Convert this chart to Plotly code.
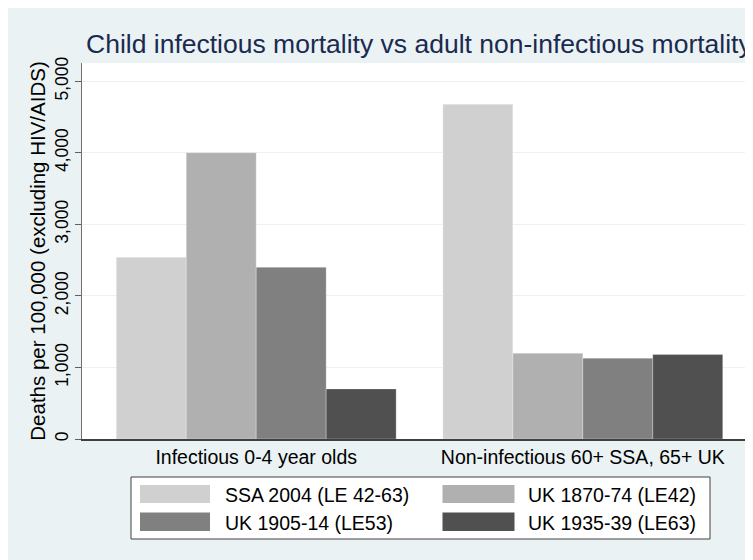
import plotly.graph_objects as go

categories = ["Infectious 0-4 year olds", "Non-infectious 60+ SSA, 65+ UK"]
series_names = ["SSA 2004 (LE 42-63)", "UK 1870-74 (LE42)", "UK 1905-14 (LE53)", "UK 1935-39 (LE63)"]
ssa_2004 = [2540, 4680]
uk_1870 = [4000, 1200]
uk_1905 = [2400, 1130]
uk_1935 = [700, 1180]
series_values = [ssa_2004, uk_1870, uk_1905, uk_1935]
colors = ["#d0d0d0", "#b0b0b0", "#808080", "#505050"]
y_ticks = [0, 1000, 2000, 3000, 4000, 5000]
y_ticktext = ["0", "1,000", "2,000", "3,000", "4,000", "5,000"]

BG = "#eaf2f3"
FONT = "Liberation Sans, Arial, sans-serif"

# figure sits at (8, 8) in the page because of the body margin
W, H = 745, 552
L, R, T, B = 74, 0, 55, 121
PW = W - L - R
PH = H - T - B


def px(x):
    return (x - L) / PW


def py(y):
    return (H - B - y) / PH


fig = go.Figure()
xpos = list(range(len(categories)))
for name, vals, col in zip(series_names, series_values, colors):
    fig.add_trace(go.Bar(
        x=xpos, y=vals, name=name,
        marker=dict(color=col, line=dict(color="rgba(255,255,255,0.35)", width=0.8)),
        showlegend=False,
    ))

shapes = []
# legend box
shapes.append(dict(type="rect", xref="paper", yref="paper", x0=px(123), x1=px(702),
                   y0=py(531), y1=py(469), fillcolor="white", line=dict(color="#404040", width=1)))

annotations = []
sw_x = [(132, 202), (434.5, 506.5)]
txt_x = [215, 518]
rows = [(477, 495), (504.5, 523)]
for i, (name, col) in enumerate(zip(series_names, colors)):
    c, r = i % 2, i // 2
    shapes.append(dict(type="rect", xref="paper", yref="paper",
                       x0=px(sw_x[c][0]), x1=px(sw_x[c][1]),
                       y0=py(rows[r][1]), y1=py(rows[r][0]),
                       fillcolor=col, line=dict(width=0)))
    annotations.append(dict(xref="paper", yref="paper", x=px(txt_x[c]),
                            y=py((rows[r][0] + rows[r][1]) / 2 + 1), text=name,
                            showarrow=False, xanchor="left", yanchor="middle",
                            font=dict(size=19.5, color="black", family=FONT)))

# title
annotations.append(dict(xref="paper", yref="paper", x=px(76), y=py(36),
                        text="Child infectious mortality vs adult non-infectious mortality",
                        showarrow=False, xanchor="left", yanchor="middle",
                        font=dict(size=26.5, color="#1a2a50", family=FONT)))

unit = 326.6
x0 = 0 - (248.2 - L) / unit
x1 = x0 + PW / unit

fig.update_layout(
    width=W, height=H,
    margin=dict(l=L, r=R, t=T, b=B, pad=0),
    paper_bgcolor=BG, plot_bgcolor="white",
    barmode="group", bargap=0.143, bargroupgap=0,
    font=dict(family=FONT, color="black"),
    shapes=shapes, annotations=annotations,
    xaxis=dict(range=[x0, x1], tickvals=xpos, ticktext=categories, ticks="",
               showgrid=False, zeroline=False, showline=True, linecolor="#404040", linewidth=1.5,
               tickfont=dict(size=19.5, color="black"), fixedrange=True),
    yaxis=dict(range=[0, 5255], tickvals=y_ticks, ticktext=y_ticktext, tickangle=-90,
               ticks="outside", ticklen=6, tickcolor="#606060", tickwidth=1,
               showgrid=True, gridcolor=BG, gridwidth=1, zeroline=False,
               showline=True, linecolor="#707070", linewidth=1,
               tickfont=dict(size=17.5, color="black"),
               title=dict(text="Deaths per 100,000 (excluding HIV/AIDS)",
                          font=dict(size=20.5, color="black"), standoff=0),
               fixedrange=True),
)

fig.write_html("out.html")
